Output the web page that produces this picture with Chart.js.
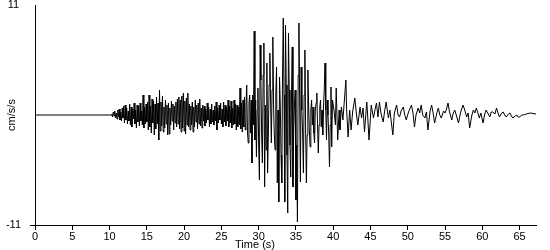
<!DOCTYPE html>
<html><head><meta charset="utf-8">
<script src="https://cdn.jsdelivr.net/npm/chart.js@4/dist/chart.umd.min.js"></script>
<style>html,body{margin:0;padding:0;background:#fff}</style>
</head><body>
<canvas id="c" width="550" height="250"></canvas>
<script>
// Time (s)
const times = [
0,10.2,
10.3,10.4,10.5,10.6,10.7,10.8,10.9,
11.0,11.1,11.2,11.3,11.4,11.5,11.6,11.7,11.8,11.9,
12.0,12.1,12.2,12.3,12.4,12.5,12.6,12.7,12.8,12.9,
13.0,13.1,13.2,13.3,13.4,13.5,13.6,13.7,13.8,13.9,
14.0,14.1,14.2,14.3,14.4,14.5,14.6,14.7,14.8,14.9,
15.0,15.1,15.2,15.3,15.4,15.5,15.6,15.7,15.8,15.9,
16.0,16.1,16.2,16.3,16.4,16.5,16.6,16.7,16.8,16.9,
17.0,17.1,17.2,17.3,17.4,17.5,17.6,17.7,17.8,17.9,
18.0,18.1,18.2,18.3,18.4,18.5,18.6,18.7,18.8,18.9,
19.0,19.1,19.2,19.3,19.4,19.5,19.6,19.7,19.8,19.9,
20.0,20.1,20.2,20.3,20.4,20.5,20.6,20.7,20.8,20.9,
21.0,21.1,21.2,21.3,21.4,21.5,21.6,21.7,21.8,21.9,
22.0,22.1,22.2,22.3,22.4,22.5,22.6,22.7,22.8,22.9,
23.0,23.1,23.2,23.3,23.4,23.5,23.6,23.7,23.8,23.9,
24.0,24.1,24.2,24.3,24.4,24.5,24.6,24.7,24.8,24.9,
25.0,25.1,25.2,25.3,25.4,25.5,25.6,25.7,25.8,25.9,
26.0,26.1,26.2,26.3,26.4,26.5,26.6,26.7,26.8,26.9,
27.0,27.1,27.2,27.3,27.4,27.5,27.6,27.7,27.8,27.9,
28.0,28.1,28.2,28.3,28.4,28.5,28.6,28.7,28.8,28.9,
29.0,29.1,29.2,29.3,29.4,29.5,29.6,29.7,29.8,29.9,
30.0,30.1,30.2,30.3,30.4,30.5,30.6,30.7,30.8,30.9,
31.0,31.1,31.2,31.3,31.4,31.5,31.6,31.7,31.8,31.9,
32.0,32.1,32.2,32.3,32.4,32.5,32.6,32.7,32.8,32.9,
33.0,33.1,33.2,33.3,33.4,33.5,33.6,33.7,33.8,33.9,
34.0,34.1,34.2,34.3,34.4,34.5,34.6,34.7,34.8,34.9,
35.0,35.1,35.2,35.3,35.4,35.5,35.6,35.7,35.8,35.9,
36.0,36.1,36.2,36.3,36.4,36.5,36.6,36.7,36.8,36.9,
37.0,37.1,37.2,37.3,37.4,37.5,37.6,37.7,37.8,37.9,
38.0,38.1,38.2,38.3,38.4,38.5,38.6,38.7,38.8,38.9,
39.0,39.1,39.2,39.3,39.4,39.5,39.6,39.7,39.8,39.9,
40.1,40.3,40.4,40.6,40.8,40.9,41.1,41.3,41.5,41.7,
41.8,42.0,42.2,42.4,42.6,42.9,43.1,43.3,43.6,43.8,
44.0,44.2,44.5,44.6,44.8,45.1,45.4,45.6,45.8,46.0,
46.2,46.4,46.7,46.9,47.1,47.4,47.6,48.0,48.2,48.5,
48.7,48.9,49.1,49.4,49.6,49.8,50.1,50.5,50.7,50.9,
51.1,51.4,51.6,51.8,52.0,52.3,52.5,52.7,53.0,53.2,
53.4,53.6,53.9,54.1,54.3,54.5,54.8,55.0,55.2,55.4,
55.6,55.9,56.1,56.3,56.5,56.8,57.1,57.4,57.6,57.9,
58.1,58.3,58.6,58.8,59.0,59.2,59.4,59.6,59.8,60.1,
60.3,60.5,60.8,61.0,61.2,61.4,61.7,61.9,62.1,62.3,
62.6,62.8,63.0,63.2,63.5,63.7,63.9,64.1,64.4,64.6,
64.8,65.0,65.3,65.5,65.9,66.4,67.2
];
// Acceleration (cm/s/s)
const accel = [
0,0,
0.1,-0.2,0.3,-0.1,0.4,-0.3,0.2,
-0.4,0.5,-0.2,0.6,-0.5,0.3,-0.6,0.7,-0.3,0.9,
-0.8,1.0,-0.5,0.7,-0.9,0.4,-0.6,1.1,-1.0,0.8,
-1.2,0.6,-0.4,1.2,-0.9,0.5,-1.3,1.0,-0.7,0.9,
-1.1,1.2,-0.6,0.4,-1.0,2.0,-1.3,0.8,-0.9,1.1,
-0.7,1.3,-1.5,2.0,-1.2,0.9,-1.8,1.6,-0.8,1.4,
-2.0,1.1,-1.4,1.8,-0.9,1.2,-2.5,2.5,-1.6,1.3,
-1.1,1.9,-1.7,0.8,-1.3,1.5,-0.9,1.0,-2.0,1.2,
-1.9,0.7,-1.0,1.4,-0.6,1.1,-1.5,0.9,-0.8,1.3,
-1.2,1.6,-0.9,1.8,-1.4,1.5,-1.7,1.9,-1.3,2.2,
-1.6,1.4,-1.9,1.7,-1.0,2.2,-1.2,1.1,-1.5,0.9,
-1.0,1.3,-1.7,0.8,-1.2,1.5,-0.7,1.0,-1.4,1.2,
-0.9,1.6,-1.1,0.7,-1.3,1.0,-0.6,0.9,-1.1,0.6,
-0.8,1.2,-0.5,0.8,-1.2,0.6,-0.9,1.1,-0.7,0.5,
-1.0,0.9,-0.6,1.3,-1.5,0.7,-0.8,1.0,-0.5,1.2,
-0.9,0.6,-1.2,1.3,-0.7,1.0,-1.1,0.8,-0.6,1.5,
-1.2,0.9,-0.8,1.4,-1.3,0.7,-1.0,1.5,-0.9,1.1,
-1.5,1.0,-1.2,0.8,-1.0,2.7,-1.4,1.2,-1.7,1.5,
-1.2,1.8,-1.5,1.0,3.0,-1.7,-2.8,1.2,2.0,-1.8,
1.5,-4.8,2.0,-1.0,8.4,-2.5,1.5,-4.2,0.5,2.7,
-3.0,-6.5,7.0,3.5,-2.0,-4.8,4.0,7.2,-7.2,1.0,
-3.5,5.2,-5.8,-2.0,3.0,6.2,1.5,-2.8,2.5,7.8,
1.0,-2.0,-3.5,2.0,4.8,-6.8,0.5,-8.7,3.8,1.0,
-4.0,-6.8,4.0,9.7,2.0,-8.7,9.0,3.0,-4.0,-9.8,
8.2,2.5,-3.0,-6.2,1.5,6.8,-7.2,-1.5,1.0,2.5,
-8.5,-3.0,-10.7,4.0,9.2,1.5,-6.7,4.8,0.5,-2.0,
-5.8,2.0,6.5,-1.5,-6.8,-2.0,4.5,1.0,-1.5,-3.2,
0.5,1.5,-1.0,0.8,-1.8,-2.8,0.5,1.2,2.2,-1.0,
-3.8,-1.0,0.8,1.5,-1.2,0.5,-2.0,1.0,2.5,5.2,
0.5,-2.5,1.5,0.0,-2.0,-5.2,-1.0,2.8,-3.2,1.5,
0.5,-1.0,2.7,-2.5,0.5,-1.5,0.8,-0.5,1.5,3.5,
0.5,-2.2,0.5,-1.5,0.3,1.7,0.2,-1.0,0.8,-0.3,
0.7,-1.7,1.3,0.2,-2.5,1.0,-0.3,0.5,1.2,-0.2,
1.3,0.2,-0.7,0.4,1.3,-0.3,0.5,-2.0,0.2,1.0,
0.0,-0.2,0.4,0.8,0.0,-0.5,0.3,1.0,0.2,-1.2,
0.0,0.7,0.2,1.0,0.0,-0.3,0.3,-1.5,0.4,1.0,
0.2,-0.8,0.2,0.7,0.0,-0.3,0.4,0.2,0.6,1.2,
0.3,-0.5,0.2,0.5,0.0,-0.8,0.3,1.0,0.6,-0.2,
0.2,-1.3,0.0,0.5,0.2,0.7,0.2,-0.3,0.2,-0.8,
0.0,0.5,0.1,-0.2,0.3,0.3,0.1,0.7,0.2,-0.2,
0.2,0.3,0.0,-0.2,0.1,0.2,-0.1,-0.3,-0.1,0.0,
-0.2,-0.2,0.0,0.0,0.1,0.2,0.1
];
const xTicks = [0,5,10,15,20,25,30,35,40,45,50,55,60,65];
const yTicks = [-11,11];
const xTitle = 'Time (s)';
const yTitle = 'cm/s/s';

const FONT = '"Liberation Sans", Arial, sans-serif';

const xTitlePlugin = {
  id: 'xTitlePlugin',
  afterDraw(chart) {
    const ctx = chart.ctx;
    ctx.save();
    ctx.font = '11px ' + FONT;
    ctx.fillStyle = '#000';
    ctx.textAlign = 'center';
    ctx.textBaseline = 'middle';
    ctx.fillText(xTitle, 255, 245);
    ctx.restore();
  }
};

new Chart(document.getElementById('c'), {
  type: 'line',
  data: {
    datasets: [{
      data: times.map((t, i) => ({ x: t, y: accel[i] })),
      borderColor: '#000',
      borderWidth: 1,
      pointRadius: 0,
      tension: 0,
      fill: false
    }]
  },
  options: {
    responsive: false,
    animation: false,
    devicePixelRatio: 1,
    layout: { padding: { top: 5, right: 14, left: 0, bottom: 0 } },
    plugins: { legend: { display: false }, tooltip: { enabled: false } },
    scales: {
      x: {
        type: 'linear', min: 0, max: 67.2,
        afterBuildTicks: s => { s.ticks = xTicks.map(v => ({ value: v })); },
        afterFit: s => { s.height = 25; s.paddingLeft = 0; s.paddingRight = 0; },
        grid: { drawOnChartArea: false, drawTicks: true, tickLength: 5, color: '#000' },
        border: { color: '#000', width: 1 },
        ticks: { color: '#000', font: { family: FONT, size: 11 }, padding: 0, maxRotation: 0, autoSkip: false }
      },
      y: {
        min: -11, max: 11,
        afterBuildTicks: s => { s.ticks = yTicks.map(v => ({ value: v })); },
        afterFit: s => { s.width = 35; s.paddingTop = 0; s.paddingBottom = 0; },
        grid: { drawOnChartArea: false, drawTicks: true, tickLength: 5,
                color: c => (c.tick && c.tick.value === -11) ? '#000' : 'rgba(0,0,0,0)' },
        border: { color: '#000', width: 1 },
        ticks: { color: '#000', font: { family: FONT, size: 11 }, padding: 9, crossAlign: 'center' },
        title: { display: true, text: yTitle, color: '#000', font: { family: FONT, size: 11 }, padding: { top: 5, bottom: 0 } }
      }
    }
  },
  plugins: [xTitlePlugin]
});
</script>
</body></html>
